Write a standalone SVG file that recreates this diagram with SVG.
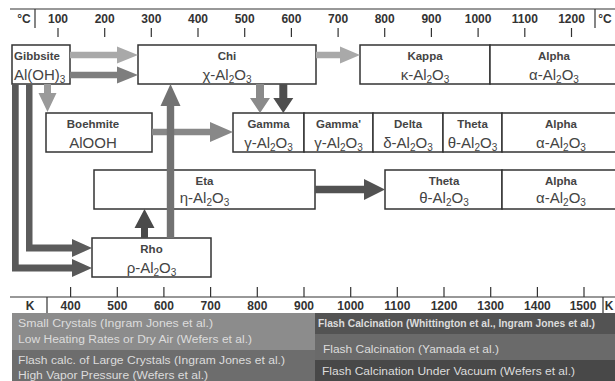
<svg xmlns="http://www.w3.org/2000/svg" width="615" height="381" viewBox="0 0 615 381">
<style>
.box{fill:#fff;stroke:#333;stroke-width:1.5}
.t{font-family:"Liberation Sans",Arial,sans-serif;font-weight:bold;font-size:11.5px;fill:#444;text-anchor:middle}
.f{font-family:"Liberation Sans",Arial,sans-serif;font-size:15px;fill:#444;text-anchor:middle}
.s{font-size:10px}
.ax{font-family:"Liberation Sans",Arial,sans-serif;font-weight:bold;font-size:12px;fill:#333;text-anchor:middle}
.ln{stroke:#333;stroke-width:1.2;fill:none}
.lg{font-family:"Liberation Sans",Arial,sans-serif;font-size:10px;fill:#dcdcdc}
</style>
<rect width="615" height="381" fill="#fff"/>
<g id="top-axis">
<line class="ln" x1="10" y1="9" x2="615" y2="9"/>
<line class="ln" x1="35" y1="9" x2="35" y2="28"/>
<line class="ln" x1="595" y1="9" x2="595" y2="28"/>
<text class="ax" x="24" y="22.5">°C</text>
<text class="ax" x="605" y="22.5">°C</text>
<g class="ln">
<line x1="58" y1="28" x2="58" y2="37"/><line x1="104.7" y1="28" x2="104.7" y2="37"/><line x1="151.3" y1="28" x2="151.3" y2="37"/><line x1="198" y1="28" x2="198" y2="37"/><line x1="244.7" y1="28" x2="244.7" y2="37"/><line x1="291.4" y1="28" x2="291.4" y2="37"/><line x1="338.1" y1="28" x2="338.1" y2="37"/><line x1="384.7" y1="28" x2="384.7" y2="37"/><line x1="431.4" y1="28" x2="431.4" y2="37"/><line x1="478.1" y1="28" x2="478.1" y2="37"/><line x1="524.8" y1="28" x2="524.8" y2="37"/><line x1="571.5" y1="28" x2="571.5" y2="37"/>
</g>
<text class="ax" x="58" y="22.5">100</text><text class="ax" x="104.7" y="22.5">200</text><text class="ax" x="151.3" y="22.5">300</text><text class="ax" x="198" y="22.5">400</text><text class="ax" x="244.7" y="22.5">500</text><text class="ax" x="291.4" y="22.5">600</text><text class="ax" x="338.1" y="22.5">700</text><text class="ax" x="384.7" y="22.5">800</text><text class="ax" x="431.4" y="22.5">900</text><text class="ax" x="478.1" y="22.5">1000</text><text class="ax" x="524.8" y="22.5">1100</text><text class="ax" x="571.5" y="22.5">1200</text>
</g>
<g id="bottom-axis">
<line class="ln" x1="10" y1="297" x2="615" y2="297"/>
<line class="ln" x1="47" y1="297" x2="47" y2="313"/>
<line class="ln" x1="603" y1="297" x2="603" y2="313"/>
<text class="ax" x="30" y="309.5">K</text>
<text class="ax" x="609" y="309.5">K</text>
<g class="ln">
<line x1="70.6" y1="287" x2="70.6" y2="297"/><line x1="117.3" y1="287" x2="117.3" y2="297"/><line x1="163.9" y1="287" x2="163.9" y2="297"/><line x1="210.6" y1="287" x2="210.6" y2="297"/><line x1="257.3" y1="287" x2="257.3" y2="297"/><line x1="304" y1="287" x2="304" y2="297"/><line x1="350.7" y1="287" x2="350.7" y2="297"/><line x1="397.3" y1="287" x2="397.3" y2="297"/><line x1="444" y1="287" x2="444" y2="297"/><line x1="490.7" y1="287" x2="490.7" y2="297"/><line x1="537.4" y1="287" x2="537.4" y2="297"/><line x1="584" y1="287" x2="584" y2="297"/>
</g>
<text class="ax" x="70.6" y="309.5">400</text><text class="ax" x="117.3" y="309.5">500</text><text class="ax" x="163.9" y="309.5">600</text><text class="ax" x="210.6" y="309.5">700</text><text class="ax" x="257.3" y="309.5">800</text><text class="ax" x="304" y="309.5">900</text><text class="ax" x="350.7" y="309.5">1000</text><text class="ax" x="397.3" y="309.5">1100</text><text class="ax" x="444" y="309.5">1200</text><text class="ax" x="490.7" y="309.5">1300</text><text class="ax" x="537.4" y="309.5">1400</text><text class="ax" x="583" y="309.5">1500</text>
</g>
<g id="gibbsite"><rect class="box" x="12" y="45" width="58" height="39"/><text class="t" x="14" y="59.5" style="text-anchor:start">Gibbsite</text><text class="f" x="14" y="80" style="text-anchor:start">Al(OH)<tspan class="s" dy="3">3</tspan></text></g>
<g id="chi"><rect class="box" x="138" y="45" width="178" height="39"/><text class="t" x="227" y="59.5">Chi</text><text class="f" x="227" y="80">χ-Al<tspan class="s" dy="3">2</tspan><tspan dy="-3">O</tspan><tspan class="s" dy="3">3</tspan></text></g>
<g id="kappa"><rect class="box" x="360" y="45" width="130" height="39"/><text class="t" x="425" y="59.5">Kappa</text><text class="f" x="425" y="80">κ-Al<tspan class="s" dy="3">2</tspan><tspan dy="-3">O</tspan><tspan class="s" dy="3">3</tspan></text></g>
<g id="alpha-1"><rect class="box" x="490" y="45" width="130" height="39"/><text class="t" x="554" y="59.5">Alpha</text><text class="f" x="554" y="80">α-Al<tspan class="s" dy="3">2</tspan><tspan dy="-3">O</tspan><tspan class="s" dy="3">3</tspan></text></g>
<g id="boehmite"><rect class="box" x="46" y="113" width="106" height="39"/><text class="t" x="93" y="127.5">Boehmite</text><text class="f" x="93" y="148">AlOOH</text></g>
<g id="gamma"><rect class="box" x="233" y="113" width="71" height="39"/><text class="t" x="268.5" y="127.5">Gamma</text><text class="f" x="268.5" y="148">γ-Al<tspan class="s" dy="3">2</tspan><tspan dy="-3">O</tspan><tspan class="s" dy="3">3</tspan></text></g>
<g id="gamma-prime"><rect class="box" x="304" y="113" width="69" height="39"/><text class="t" x="338.5" y="127.5">Gamma'</text><text class="f" x="338.5" y="148">γ-Al<tspan class="s" dy="3">2</tspan><tspan dy="-3">O</tspan><tspan class="s" dy="3">3</tspan></text></g>
<g id="delta"><rect class="box" x="373" y="113" width="70" height="39"/><text class="t" x="408" y="127.5">Delta</text><text class="f" x="408" y="148">δ-Al<tspan class="s" dy="3">2</tspan><tspan dy="-3">O</tspan><tspan class="s" dy="3">3</tspan></text></g>
<g id="theta-1"><rect class="box" x="443" y="113" width="59" height="39"/><text class="t" x="472.5" y="127.5">Theta</text><text class="f" x="472.5" y="148">θ-Al<tspan class="s" dy="3">2</tspan><tspan dy="-3">O</tspan><tspan class="s" dy="3">3</tspan></text></g>
<g id="alpha-2"><rect class="box" x="502" y="113" width="118" height="39"/><text class="t" x="561" y="127.5">Alpha</text><text class="f" x="561" y="148">α-Al<tspan class="s" dy="3">2</tspan><tspan dy="-3">O</tspan><tspan class="s" dy="3">3</tspan></text></g>
<g id="eta"><rect class="box" x="94" y="170" width="221" height="39"/><text class="t" x="204.5" y="184.5">Eta</text><text class="f" x="204.5" y="203">η-Al<tspan class="s" dy="3">2</tspan><tspan dy="-3">O</tspan><tspan class="s" dy="3">3</tspan></text></g>
<g id="theta-2"><rect class="box" x="385" y="170" width="117" height="39"/><text class="t" x="444" y="184.5">Theta</text><text class="f" x="444" y="203">θ-Al<tspan class="s" dy="3">2</tspan><tspan dy="-3">O</tspan><tspan class="s" dy="3">3</tspan></text></g>
<g id="alpha-3"><rect class="box" x="502" y="170" width="118" height="39"/><text class="t" x="561" y="184.5">Alpha</text><text class="f" x="561" y="203">α-Al<tspan class="s" dy="3">2</tspan><tspan dy="-3">O</tspan><tspan class="s" dy="3">3</tspan></text></g>
<g id="rho"><rect class="box" x="92" y="238" width="119" height="39"/><text class="t" x="151.5" y="252.5">Rho</text><text class="f" x="151.5" y="273">ρ-Al<tspan class="s" dy="3">2</tspan><tspan dy="-3">O</tspan><tspan class="s" dy="3">3</tspan></text></g>
<g id="connectors">
<path fill="#a9a9a9" d="M70 51.7H117V46.5L138 55L117 63.5V58.3H70Z"/>
<path fill="#7e7e7e" d="M70 71.7H117V66.5L138 75L117 83.5V78.3H70Z"/>
<path fill="#a9a9a9" d="M316 51.7H340V46.5L360 55L340 63.5V58.3H316Z"/>
<path fill="#9a9a9a" d="M44 84H51V93H56.5L47.5 112L38.5 93H44Z"/>
<path fill="#888" d="M152 128.8H210V122L233 132L210 142V135.2H152Z"/>
<path fill="#8a8a8a" d="M256 84H264V98H270L260 113L250 98H256Z"/>
<path fill="#4e4e4e" d="M279.3 84H287.3V98H293.3L283.3 113L273.3 98H279.3Z"/>
<path fill="#727272" d="M166.8 238V106H160.5L170.5 84L180.5 106H174.2V238Z"/>
<path fill="#4a4a4a" d="M141 238V228H134.5L144.5 209L154.5 228H148V238Z"/>
<path fill="#525252" d="M315 185.7H364V179L385 189.5L364 200V193.3H315Z"/>
<path fill="#595959" d="M12 84H18.7V264.5H72V259L92 268L72 277V271.5H12Z"/>
<path fill="#5c5c5c" d="M26 84H32.5V244.5H72V239L92 248L72 257V251.5H26Z"/>
</g>
<g id="legend">
<rect x="12" y="313" width="303" height="37" fill="#8c8c8c"/>
<rect x="12" y="350" width="303" height="31" fill="#6d6d6d"/>
<rect x="315" y="313" width="300" height="21" fill="#535353"/>
<rect x="315" y="334" width="300" height="26" fill="#6a6a6a"/>
<rect x="315" y="360" width="300" height="21" fill="#484848"/>
<text class="lg" x="18" y="326.8" textLength="195" lengthAdjust="spacingAndGlyphs">Small Crystals (Ingram Jones et al.)</text>
<text class="lg" x="18" y="342.8" textLength="234" lengthAdjust="spacingAndGlyphs">Low Heating Rates or Dry Air (Wefers et al.)</text>
<text class="lg" x="18" y="364" textLength="267" lengthAdjust="spacingAndGlyphs">Flash calc. of Large Crystals (Ingram Jones et al.)</text>
<text class="lg" x="18" y="378.5" textLength="190" lengthAdjust="spacingAndGlyphs">High Vapor Pressure (Wefers et al.)</text>
<text class="lg" x="318" y="326.5" font-weight="bold" font-size="9" textLength="277" lengthAdjust="spacingAndGlyphs">Flash Calcination (Whittington et al., Ingram Jones et al.)</text>
<text class="lg" x="323" y="352.5" textLength="176" lengthAdjust="spacingAndGlyphs">Flash Calcination (Yamada et al.)</text>
<text class="lg" x="322" y="375.3" textLength="253" lengthAdjust="spacingAndGlyphs">Flash Calcination Under Vacuum (Wefers et al.)</text>
</g>
</svg>
